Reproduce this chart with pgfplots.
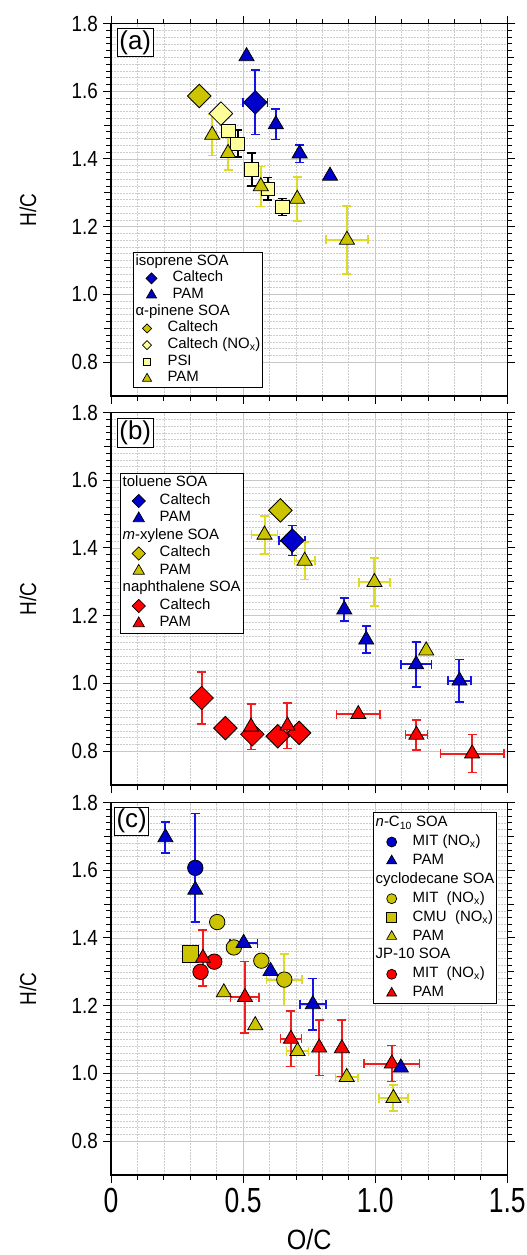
\documentclass[border=0pt]{standalone}
\usepackage{fontspec}
\setmainfont{Liberation Sans}
\usepackage{graphicx}
\usepackage{pgfplots}
\pgfplotsset{compat=1.18}
\usepackage{pgfplotstable}

\definecolor{cblue}{RGB}{0,0,204}
\definecolor{eblue}{RGB}{20,20,230}
\definecolor{colive}{RGB}{204,196,0}
\definecolor{eyellow}{RGB}{222,218,40}
\definecolor{clight}{RGB}{255,255,153}
\definecolor{cred}{RGB}{255,0,0}
\definecolor{ered}{RGB}{240,30,30}

% ---------- panel (a)
\pgfplotstableread{
x y ex ey
0.546 1.567 0.047 0.095
}\aIsoCal
\pgfplotstableread{
x y ex ey
0.513 1.703 0 0
0.624 1.502 0 0.045
0.714 1.416 0 0.026
0.829 1.350 0 0
}\aIsoPAM
\pgfplotstableread{
x y
0.334 1.586
}\aApCal
\pgfplotstableread{
x y
0.416 1.534
}\aApNOx
\pgfplotstableread{
x y ex ey
0.445 1.482 0 0
0.479 1.445 0 0.040
0.532 1.369 0 0.048
0.593 1.312 0 0.033
0.649 1.258 0 0.025
}\aPSI
\pgfplotstableread{
x y ex ey
0.383 1.471 0 0.061
0.443 1.417 0 0.050
0.567 1.319 0 0.059
0.705 1.282 0 0.065
0.893 1.161 0.080 0.100
}\aApPAM
% ---------- panel (b)
\pgfplotstableread{
x y ex ey
0.686 1.422 0.049 0.044
}\bTolCal
\pgfplotstableread{
x y ex ey
0.883 1.218 0 0.034
0.966 1.129 0 0.040
1.155 1.056 0.058 0.066
1.319 1.008 0.044 0.063
}\bTolPAM
\pgfplotstableread{
x y
0.641 1.511
}\bXylCal
\pgfplotstableread{
x y ex ey
0.581 1.439 0.049 0.056
0.733 1.362 0.039 0.055
0.997 1.299 0.059 0.071
1.193 1.097 0 0
}\bXylPAM
\pgfplotstableread{
x y ex ey
0.343 0.957 0 0.076
0.433 0.868 0 0
0.535 0.850 0 0
0.631 0.844 0 0
0.712 0.854 0 0
}\bNapCal
\pgfplotstableread{
x y ex ey
0.530 0.872 0 0.067
0.668 0.875 0 0.067
0.936 0.909 0.083 0
1.156 0.848 0.042 0.044
1.367 0.793 0.120 0.056
}\bNapPAM
% ---------- panel (c)
\pgfplotstableread{
x y ex ey
0.319 1.607 0 0.160
}\cNcMIT
\pgfplotstableread{
x y ex ey
0.206 1.697 0 0.046
0.319 1.542 0 0
0.502 1.385 0.052 0
0.604 1.302 0 0
0.764 1.204 0.049 0.076
1.097 1.017 0 0
}\cNcPAM
\pgfplotstableread{
x y ex ey
0.402 1.447 0 0
0.465 1.372 0 0
0.569 1.333 0 0
0.656 1.277 0.068 0.076
}\cCyMIT
\pgfplotstableread{
x y
0.301 1.353
}\cCyCMU
\pgfplotstableread{
x y ex ey
0.427 1.239 0 0
0.546 1.142 0 0
0.706 1.066 0.042 0
0.892 0.989 0.042 0
1.069 0.927 0.055 0.038
}\cCyPAM
\pgfplotstableread{
x y
0.339 1.300
0.391 1.330
}\cJpMIT
\pgfplotstableread{
x y ex ey
0.348 1.341 0 0.083
0.507 1.225 0.054 0.106
0.681 1.102 0.040 0.082
0.788 1.076 0 0.082
0.874 1.074 0 0.083
1.063 1.029 0.105 0.053
}\cJpPAM

\newcommand{\ytl}[1]{\scalebox{0.86}[1]{#1}}
\newcommand{\xtl}[1]{\scalebox{0.76}[1]{#1}}

\tikzset{plab/.style={draw=black, line width=1bp, fill=white, inner sep=2bp, anchor=north west, font=\fontsize{26}{26}\selectfont}}

\pgfplotsset{
  errb/.style={forget plot, draw=#1, line width=2bp, mark=none, only marks,
    /pgfplots/error bars/x dir=both, /pgfplots/error bars/x explicit,
    /pgfplots/error bars/y dir=both, /pgfplots/error bars/y explicit,
    /pgfplots/error bars/error bar style={draw=#1, line width=2bp, solid},
    /pgfplots/error bars/error mark options={rotate=90, mark size=4.5bp, line width=1.6bp, draw=#1}},
  dia/.style={forget plot, only marks, mark=square*, mark size=8.3bp,
    mark options={rotate=45, fill=#1, draw=black, line width=0.8bp, solid}},
  tri/.style={forget plot, only marks, mark=triangle*, mark size=8.7bp,
    mark options={fill=#1, draw=black, line width=0.8bp, solid}},
  sqm/.style={forget plot, only marks, mark=square*, mark size=6.7bp,
    mark options={fill=#1, draw=black, line width=0.8bp, solid}},
  sqc/.style={forget plot, only marks, mark=square*, mark size=8.2bp,
    mark options={fill=#1, draw=black, line width=0.8bp, solid}},
  cir/.style={forget plot, only marks, mark=*, mark size=7.7bp,
    mark options={fill=#1, draw=black, line width=0.8bp, solid}},
  lmk/.style={legend image code/.code={\path[draw=none,fill=none] (0bp,0bp) rectangle (30bp,0.1bp); \draw[##1] plot coordinates {(16bp,0bp)};}},
  lmkA/.style={legend image code/.code={\path[draw=none,fill=none] (0bp,0bp) rectangle (30bp,0.1bp); \draw[##1] plot coordinates {(11.5bp,0bp)};}},
  ldia/.style 2 args={only marks, mark=square*, mark size=#2, mark options={rotate=45, fill=#1, draw=black, line width=0.7bp, solid}},
  ltri/.style 2 args={only marks, mark=triangle*, mark size=#2, mark options={fill=#1, draw=black, line width=0.7bp, solid}},
  lsq/.style 2 args={only marks, mark=square*, mark size=#2, mark options={fill=#1, draw=black, line width=0.7bp, solid}},
  lcir/.style 2 args={only marks, mark=*, mark size=#2, mark options={fill=#1, draw=black, line width=0.7bp, solid}},
  panel/.style={
    scale only axis, width=396.3bp, height=372.5bp,
    xmin=0, xmax=1.5, ymin=0.7, ymax=1.8,
    xtick={0,0.5,1,1.5}, minor x tick num=4,
    ytick={0.8,1.0,1.2,1.4,1.6,1.8}, minor y tick num=9,
    yticklabels={\ytl{0.8},\ytl{1.0},\ytl{1.2},\ytl{1.4},\ytl{1.6},\ytl{1.8}},
    yticklabel style={font=\fontsize{22}{22}\selectfont, inner sep=0pt, xshift=-5bp},
    extra y ticks={0.9,1.1,1.3,1.5,1.7},
    extra y tick labels={},
    extra y tick style={grid=none, major tick length=6.5bp},
    tick align=outside, major tick length=8bp, minor tick length=4.5bp,
    ytick pos=both,
    grid=both,
    major grid style={draw=black!22, line width=0.9bp},
    minor grid style={draw=black!20, line width=0.6bp, dash pattern=on 1.6bp off 1.4bp},
    axis line style={line width=1.1bp, black},
    major tick style={black, line width=1bp},
    minor tick style={black, line width=0.8bp},
    ylabel={\scalebox{0.83}[1]{H/C}},
    ylabel style={font=\fontsize{23}{23}\selectfont, at={(axis description cs:-0.2096,0.5)}, anchor=center},
    legend cell align=left,
  },
  lgd/.style 2 args={legend style={font=\fontsize{15}{17}\selectfont, draw=black, line width=0.9bp, fill=white,
      inner xsep=2.3bp, inner ysep=1bp, row sep=0pt, column sep=7bp,
      nodes={inner sep=0pt, text height=#1, text depth=#2}}},
}

\begin{document}
\begin{tikzpicture}
% ================= (a)
\begin{axis}[panel, at={(111bp,-396bp)}, anchor=south west, xtick pos=both, xticklabels={},
  lgd={11.7bp}{5bp}, legend style={at={(axis description cs:0.055,0.387)}, anchor=north west}]
\addplot[errb=black] table[x=x,y=y,x error=ex,y error=ey] {\aPSI};
\addplot[dia=colive] table[x=x,y=y] {\aApCal};
\addplot[dia=clight] table[x=x,y=y] {\aApNOx};
\addplot[sqm=clight] table[x=x,y=y] {\aPSI};
\addplot[errb=eyellow] table[x=x,y=y,x error=ex,y error=ey] {\aApPAM};
\addplot[tri=colive] table[x=x,y=y] {\aApPAM};
\addplot[errb=eblue] table[x=x,y=y,x error=ex,y error=ey] {\aIsoCal};
\addplot[dia=cblue] table[x=x,y=y] {\aIsoCal};
\addplot[errb=eblue] table[x=x,y=y,x error=ex,y error=ey] {\aIsoPAM};
\addplot[tri=cblue] table[x=x,y=y] {\aIsoPAM};
\addlegendimage{empty legend}\addlegendentry{\hspace{-37bp}isoprene SOA}
\addlegendimage{ldia={cblue}{3.9bp}, lmk}\addlegendentry{Caltech}
\addlegendimage{ltri={cblue}{5.8bp}, lmk}\addlegendentry{PAM}
\addlegendimage{empty legend}\addlegendentry{\hspace{-37bp}α-pinene SOA}
\addlegendimage{ldia={colive}{3.2bp}, lmkA}\addlegendentry{\hspace{-5bp}Caltech}
\addlegendimage{ldia={clight}{3.2bp}, lmkA}\addlegendentry{\hspace{-5bp}Caltech (NO\textsubscript{x})}
\addlegendimage{lsq={clight}{3.8bp}, lmkA}\addlegendentry{\hspace{-5bp}PSI}
\addlegendimage{ltri={colive}{5.2bp}, lmkA}\addlegendentry{\hspace{-5bp}PAM}
\node[plab] at (axis description cs:0.015,0.987) {(a)};
\end{axis}
% ================= (b)
\begin{axis}[panel, at={(111bp,-785bp)}, anchor=south west, xtick pos=lower, xticklabels={},
  lgd={12bp}{5.5bp}, legend style={at={(axis description cs:0.0227,0.837)}, anchor=north west}]
\addplot[errb=eblue] table[x=x,y=y,x error=ex,y error=ey] {\bTolCal};
\addplot[dia=cblue] table[x=x,y=y] {\bTolCal};
\addplot[dia=colive] table[x=x,y=y] {\bXylCal};
\addplot[errb=ered] table[x=x,y=y,x error=ex,y error=ey] {\bNapCal};
\addplot[dia=cred] table[x=x,y=y] {\bNapCal};
\addplot[errb=eblue] table[x=x,y=y,x error=ex,y error=ey] {\bTolPAM};
\addplot[tri=cblue] table[x=x,y=y] {\bTolPAM};
\addplot[errb=eyellow] table[x=x,y=y,x error=ex,y error=ey] {\bXylPAM};
\addplot[tri=colive] table[x=x,y=y] {\bXylPAM};
\addplot[errb=ered] table[x=x,y=y,x error=ex,y error=ey] {\bNapPAM};
\addplot[tri=cred] table[x=x,y=y] {\bNapPAM};
\addlegendimage{empty legend}\addlegendentry{\hspace{-37bp}toluene SOA}
\addlegendimage{ldia={cblue}{4.7bp}, lmk}\addlegendentry{Caltech}
\addlegendimage{ltri={cblue}{6.5bp}, lmk}\addlegendentry{PAM}
\addlegendimage{empty legend}\addlegendentry{\hspace{-37bp}\textit{m}-xylene SOA}
\addlegendimage{ldia={colive}{4.7bp}, lmk}\addlegendentry{Caltech}
\addlegendimage{ltri={colive}{6.5bp}, lmk}\addlegendentry{PAM}
\addlegendimage{empty legend}\addlegendentry{\hspace{-37bp}naphthalene SOA}
\addlegendimage{ldia={cred}{4.7bp}, lmk}\addlegendentry{Caltech}
\addlegendimage{ltri={cred}{6.5bp}, lmk}\addlegendentry{PAM}
\node[plab] at (axis description cs:0.015,0.984) {(b)};
\end{axis}
% ================= (c)
\begin{axis}[panel, at={(111bp,-1175bp)}, anchor=south west, xtick pos=lower,
  xticklabels={\xtl{0},\xtl{0.5},\xtl{1.0},\xtl{1.5}},
  xticklabel style={font=\fontsize{35}{35}\selectfont, inner sep=0pt, yshift=-5bp},
  xlabel={\scalebox{0.9}[1]{O/C}},
  xlabel style={font=\fontsize{28}{28}\selectfont, at={(axis description cs:0.5,-0.174)}, anchor=center},
  lgd={13bp}{5.9bp}, legend style={at={(axis description cs:0.661,0.974)}, anchor=north west}]
\addplot[errb=eyellow] table[x=x,y=y,x error=ex,y error=ey] {\cCyMIT};
\addplot[cir=colive] table[x=x,y=y] {\cCyMIT};
\addplot[sqc=colive] table[x=x,y=y] {\cCyCMU};
\addplot[errb=eyellow] table[x=x,y=y,x error=ex,y error=ey] {\cCyPAM};
\addplot[tri=colive] table[x=x,y=y] {\cCyPAM};
\addplot[cir=cred] table[x=x,y=y] {\cJpMIT};
\addplot[errb=ered] table[x=x,y=y,x error=ex,y error=ey] {\cJpPAM};
\addplot[tri=cred] table[x=x,y=y] {\cJpPAM};
\addplot[errb=eblue] table[x=x,y=y,x error=ex,y error=ey] {\cNcMIT};
\addplot[cir=cblue] table[x=x,y=y] {\cNcMIT};
\addplot[errb=eblue] table[x=x,y=y,x error=ex,y error=ey] {\cNcPAM};
\addplot[tri=cblue] table[x=x,y=y] {\cNcPAM};
\addlegendimage{empty legend}\addlegendentry{\hspace{-37bp}\textit{n}-C\textsubscript{10} SOA}
\addlegendimage{lcir={cblue}{5bp}, lmk}\addlegendentry{MIT (NO\textsubscript{x})}
\addlegendimage{ltri={cblue}{5.8bp}, lmk}\addlegendentry{PAM}
\addlegendimage{empty legend}\addlegendentry{\hspace{-37bp}cyclodecane SOA}
\addlegendimage{lcir={colive}{5bp}, lmk}\addlegendentry{MIT\ \ (NO\textsubscript{x})}
\addlegendimage{lsq={colive}{5bp}, lmk}\addlegendentry{CMU\ \ (NO\textsubscript{x})}
\addlegendimage{ltri={colive}{5.8bp}, lmk}\addlegendentry{PAM}
\addlegendimage{empty legend}\addlegendentry{\hspace{-37bp}JP-10 SOA}
\addlegendimage{lcir={cred}{5bp}, lmk}\addlegendentry{MIT\ \ (NO\textsubscript{x})}
\addlegendimage{ltri={cred}{5.8bp}, lmk}\addlegendentry{PAM}
\node[plab] at (axis description cs:0.0076,0.989) {(c)};
\end{axis}
\pgfresetboundingbox
\path[use as bounding box] (0bp,0bp) rectangle (527bp,-1255bp);
\end{tikzpicture}
\end{document}
